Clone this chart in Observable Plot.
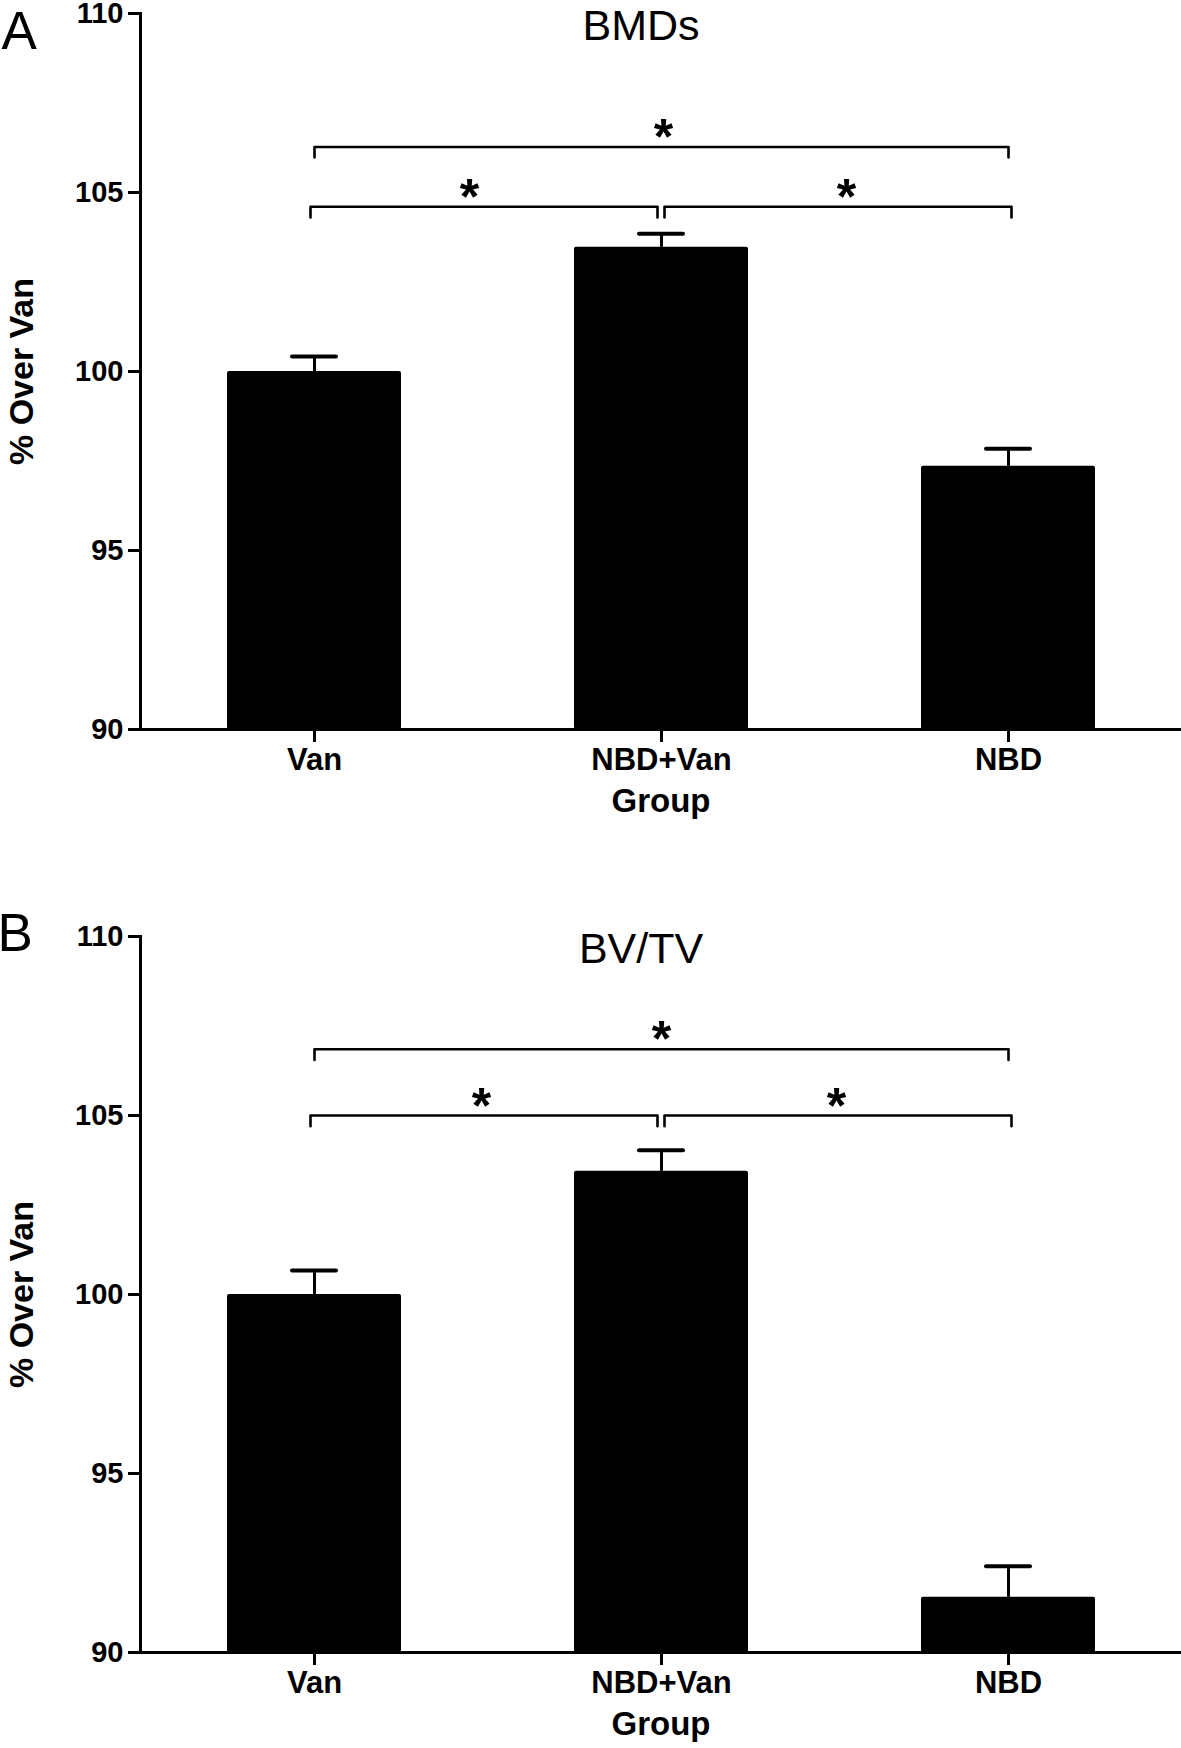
<!DOCTYPE html>
<html><head><meta charset="utf-8">
<script src="https://cdn.jsdelivr.net/npm/d3@7"></script>
<script src="https://cdn.jsdelivr.net/npm/@observablehq/plot@0.6"></script>
<style>
body{margin:0;background:#fff;}
#chart svg{display:block;}
</style></head><body><div id="chart"></div>
<script>
// ---- data ----
const groups = ["Van", "NBD+Van", "NBD"];
const yTicks = [90, 95, 100, 105, 110];

const bmdMean   = [100, 103.47, 97.35];
const bmdErrTop = [100.42, 103.85, 97.84];
const bvtvMean   = [100, 103.44, 91.54];
const bvtvErrTop = [100.67, 104.03, 92.41];

// significance brackets
const bracketFrom = ["Van", "Van", "NBD+Van"];
const bracketTo   = ["NBD", "NBD+Van", "NBD"];
const bracketLabel = ["*", "*", "*"];
const bmdBracketLevel = [106.27, 104.60, 104.60];
const bmdBracketEnd   = [105.98, 104.30, 104.30];
const bvtvBracketLevel = [106.85, 105.00, 105.00];
const bvtvBracketEnd   = [106.55, 104.70, 104.70];

const font = "Arial, 'Liberation Sans', Helvetica, sans-serif";

function panel({title, letter, means, errTop, level, end, height, marginTop, marginBottom,
                titleDy, letterDy, letterDx, letterSize, starDx}) {
  const data = groups.map((g, i) => ({group: g, mean: means[i], top: errTop[i]}));
  const bracketMarks = bracketFrom.map((f, i) => {
    const pts = [
      {x: f, y: end[i]}, {x: f, y: level[i]},
      {x: bracketTo[i], y: level[i]}, {x: bracketTo[i], y: end[i]}
    ];
    const shift = i === 1 ? -4 : i === 2 ? 3 : 0;
    return Plot.line(pts, {x: "x", y: "y", stroke: "black", strokeWidth: 2.6, dx: shift});
  });
  const starMarks = bracketFrom.map((f, i) =>
    Plot.text([{x: "NBD+Van", y: level[i], t: bracketLabel[i]}],
      {x: "x", y: "y", text: "t", dx: starDx[i], dy: 7, fontSize: 50, fontWeight: "bold", lineAnchor: "bottom"}));
  return Plot.plot({
    width: 1181, height, marginTop, marginBottom, marginLeft: 140, marginRight: 0,
    style: {fontFamily: font, background: "white", color: "black", overflow: "visible"},
    x: {domain: groups, paddingInner: 0.5, paddingOuter: 0.25},
    y: {domain: [90, 110]},
    marks: [
      Plot.barY(data, {x: "group", y1: 90, y2: "mean", fill: "black", rx: 2}),
      Plot.ruleX(data, {x: "group", y1: "mean", y2: "top", stroke: "black", strokeWidth: 3}),
      Plot.tickY(data, {x: "group", y: "top", stroke: "black", strokeWidth: 4, strokeLinecap: "round", insetLeft: 65, insetRight: 65}),
      ...bracketMarks,
      ...starMarks,
      Plot.ruleY([90], {stroke: "black", strokeWidth: 3}),
      Plot.frame({anchor: "left", stroke: "black", strokeWidth: 3}),
      Plot.axisY({ticks: yTicks, tickSize: 12, tickPadding: 5, strokeWidth: 3, fontSize: 29, fontWeight: "bold", label: null}),
      Plot.axisX({tickSize: 13, tickPadding: 5, strokeWidth: 3, fontSize: 31, fontWeight: "bold", label: null}),
      Plot.text(["% Over Van"], {text: d => d, frameAnchor: "left", textAnchor: "middle", rotate: -90, dx: -118, fontSize: 34, fontWeight: "bold"}),
      Plot.text(["Group"], {text: d => d, frameAnchor: "bottom", textAnchor: "middle", dy: 82, fontSize: 33, fontWeight: "bold"}),
      Plot.text([title], {text: d => d, frameAnchor: "top", textAnchor: "middle", dx: -20, dy: titleDy, lineAnchor: "top", fontSize: 43}),
      Plot.text([letter], {text: d => d, frameAnchor: "top-left", dx: letterDx, dy: letterDy, lineAnchor: "top", textAnchor: "start", fontSize: letterSize})
    ]
  });
}

const chart = document.getElementById("chart");
chart.append(panel({
  title: "BMDs", letter: "A", means: bmdMean, errTop: bmdErrTop,
  level: bmdBracketLevel, end: bmdBracketEnd,
  height: 860, marginTop: 13, marginBottom: 131,
  titleDy: -4.5, letterDy: -2.6, letterDx: -139, letterSize: 53,
  starDx: [2, -192, 185]
}));
chart.append(panel({
  title: "BV/TV", letter: "B", means: bvtvMean, errTop: bvtvErrTop,
  level: bvtvBracketLevel, end: bvtvBracketEnd,
  height: 888, marginTop: 76, marginBottom: 96,
  titleDy: -4.5, letterDy: -23.6, letterDx: -143, letterSize: 53,
  starDx: [0, -180, 175]
}));
</script>
</body></html>
